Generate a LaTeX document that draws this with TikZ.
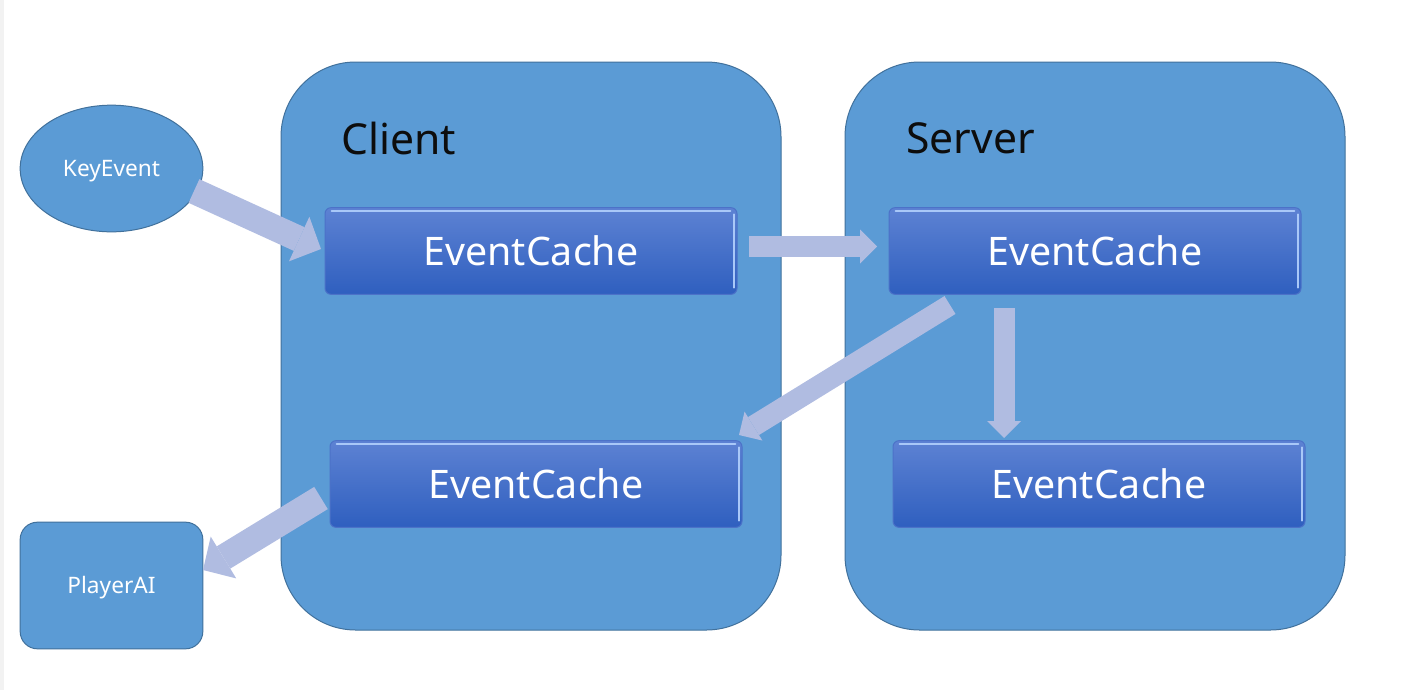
\documentclass[tikz,border=0pt]{standalone}
\usepackage{fontspec}
\setmainfont{Noto Sans}
\usetikzlibrary{arrows.meta,shapes.geometric}
\definecolor{contfill}{HTML}{5B9BD5}
\definecolor{contline}{HTML}{41719C}
\definecolor{ectop}{HTML}{5D82D3}
\definecolor{ecbot}{HTML}{2F5FBF}
\definecolor{ecline}{HTML}{4C72C8}
\definecolor{eclight}{HTML}{A9C8F8}
\definecolor{arrowc}{HTML}{B0BCE1}
\definecolor{labeltext}{HTML}{0D0D0D}
\begin{document}
\begin{tikzpicture}[x=0.75pt,y=-0.75pt,
  container/.style={rectangle,draw=contline,fill=contfill,line width=0.75pt,
    rounded corners=56pt,minimum width=375pt,minimum height=426pt,inner sep=0pt},
  grouplabel/.style={text=labeltext,font=\fontsize{32pt}{36pt}\selectfont,inner sep=0pt},
  ecbox/.style={rectangle,rounded corners=4.5pt,draw=ecline,line width=0.75pt,
    top color=ectop,bottom color=ecbot,text=white,
    font=\fontsize{29.5pt}{33pt}\selectfont,text height=21pt,text depth=0pt,
    minimum width=309pt,minimum height=65pt,inner sep=0pt,
    path picture={
      \draw[eclight,line width=1.6pt,line cap=round]
        ([xshift=5pt,yshift=-2.2pt]path picture bounding box.north west) --
        ([xshift=-5pt,yshift=-2.2pt]path picture bounding box.north east);
      \draw[eclight,line width=1.4pt,line cap=round]
        ([xshift=-2pt,yshift=-5pt]path picture bounding box.north east) --
        ([xshift=-2pt,yshift=5pt]path picture bounding box.south east);
    }},
  sidenode/.style={draw=contline,fill=contfill,line width=0.75pt,text=white,
    font=\fontsize{17pt}{20pt}\selectfont,text height=12.1pt,text depth=0pt,
    minimum width=137pt,minimum height=95pt,inner sep=0pt},
  bigarrow/.style={draw=arrowc,line width=19.5pt,
    -{Triangle[length=18pt,width=36.75pt,line width=0pt]}},
  smallarrow/.style={draw=arrowc,line width=15.75pt,
    -{Triangle[length=12.75pt,width=25.5pt,line width=0pt]}}
]
\useasboundingbox (0,0) rectangle (1414,690);
\fill[white] (0,0) rectangle (1414,690);
\fill[black!5] (0,0) rectangle (4,690);

% containers
\node[container] (client) at (531,346) {};
\node[container] (server) at (1095,346) {};
\node[grouplabel,anchor=base west] (clientlbl) at (341,154) {Client};
\node[grouplabel,anchor=base west] (serverlbl) at (906,153) {Server};

% event caches
\node[ecbox] (ec1) at (531,251) {EventCache};
\node[ecbox] (ec2) at (1095,251) {EventCache};
\node[ecbox] (ec3) at (536,484) {EventCache};
\node[ecbox] (ec4) at (1099,484) {EventCache};

% side nodes
\node[sidenode,ellipse] (key) at (111.5,168.5) {KeyEvent};
\node[sidenode,rectangle,rounded corners=13pt] (player) at (111.5,585.5) {PlayerAI};

% arrow end points
\coordinate (a1s) at (194,191);
\coordinate (a1e) at (321,249);
\coordinate (a2s) at (749,246.5);
\coordinate (a2e) at (877,246.5);
\coordinate (a3s) at (950,305);
\coordinate (a3e) at (739,435);
\coordinate (a4s) at (1004,308);
\coordinate (a4e) at (1004,438);
\coordinate (a5s) at (321,498);
\coordinate (a5e) at (203,570);

\draw[bigarrow] (a1s) -- (a1e);
\draw[smallarrow] (a2s) -- (a2e);
\draw[smallarrow] (a3s) -- (a3e);
\draw[smallarrow] (a4s) -- (a4e);
\draw[bigarrow] (a5s) -- (a5e);
\end{tikzpicture}
\end{document}
